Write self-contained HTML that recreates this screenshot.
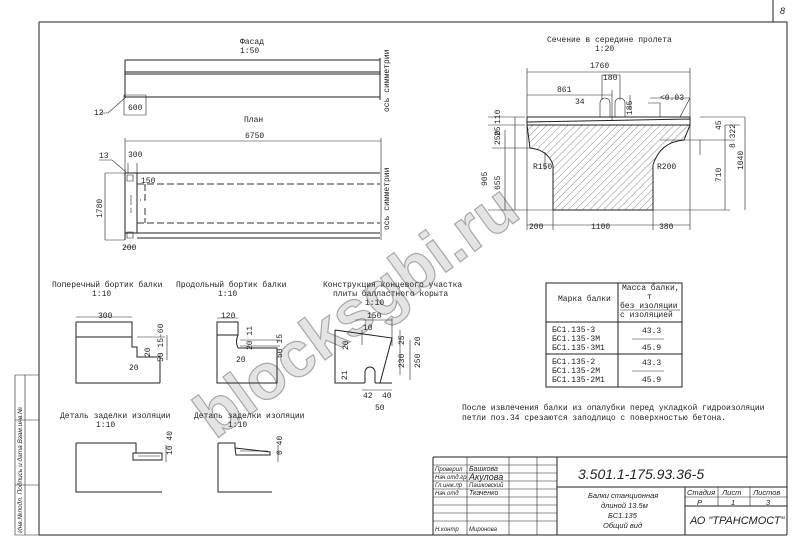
<!DOCTYPE html>
<html><head><meta charset="utf-8"><style>
html,body{margin:0;padding:0;background:#fff;}
svg{display:block;}
text{font-family:"Liberation Mono","DejaVu Sans Mono",monospace;fill:#222;}
.s{stroke:#222;fill:none;stroke-width:1;}
.t{stroke:#222;fill:none;stroke-width:0.6;}
.d{stroke:#333;fill:none;stroke-width:1;stroke-dasharray:7 3;}
text.h{font-family:"Liberation Sans","DejaVu Sans",sans-serif;font-style:italic;}
text.wm{font-family:"Liberation Sans",sans-serif;fill:#e4e4e4;stroke:#a8a8a8;stroke-width:1.2;font-weight:bold;}
</style></head><body>
<svg width="800" height="545" viewBox="0 0 800 545" xmlns="http://www.w3.org/2000/svg" font-size="8">
<defs>
<pattern id="hat" patternUnits="userSpaceOnUse" width="5" height="5" patternTransform="rotate(45)">
<line x1="0" y1="0" x2="0" y2="5" stroke="#555" stroke-width="0.7"/></pattern>
</defs>
<!-- frame -->
<path class="s" d="M39,22 H787 V535 M39,22 V535 H787" stroke-width="1.3"/>
<path class="s" d="M773,0 V22"/>
<text x="780" y="14" class="h" font-size="9">8</text>
<!-- left stamp -->
<path class="t" d="M15,375 H39 M15,375 V535 H39 M25,375 V535 M15,420 H39 M15,485 H39"/>
<text transform="translate(22,533) rotate(-90)" font-size="6.5" class="h">Инв.№подл. Подпись и дата Взам.инв.№</text>

<!-- watermark -->
<text class="wm" transform="translate(215,440) rotate(-36)" font-size="64">blocksgbi.ru</text>

<!-- Facade -->
<text x="240" y="44">Фасад</text><text x="240" y="53">1:50</text>
<path class="s" d="M125,60 H380 M125,60 V97 H380 M125,72 H380 M125,74 H380 M380,58 V100"/>
<path class="t" d="M124,95 H146 V115 H124 Z M100,113 H108 L126,97"/>
<text x="128" y="110">600</text><text x="94" y="115">12</text>
<text transform="translate(389,112) rotate(-90)">ось симметрии</text>
<!-- Plan -->
<text x="244" y="122">План</text>
<text x="245" y="138">6750</text>
<path class="t" d="M125,141 H381 M125,138 V240 M381,138 V240"/>
<path class="s" d="M125,173 H380 M137,173 V233 M125,233 H380 M137,238 H380 M125,173 V240"/>
<path class="d" d="M137,184 H380 M137,223 H380 M145,184 V200 H140 M145,208 V223"/>
<path class="t" d="M127,175 h6 v6 h-6 z M127,232 h6 v6 h-6 z M131,195 v10 M131,208 v5"/>
<path class="t" d="M105,173 H125 M105,173 V240 M105,240 H125 M128,163 V173 M137,163 V173 M99,160 H112 L126,172 M124,247 H134"/>
<text x="128" y="157">300</text><text x="141" y="183">150</text><text x="99" y="158">13</text>
<text transform="translate(102,218) rotate(-90)">1780</text>
<text x="122" y="250">200</text>
<text transform="translate(389,230) rotate(-90)">ось симметрии</text>

<!-- Section -->
<text x="547" y="42">Сечение в середине пролета</text><text x="595" y="51">1:20</text>
<path d="M527,125 H690 L684,140 Q660,142 653,165 V210 H553 V165 Q548,150 530,148 Z" fill="url(#hat)" stroke="#222" stroke-width="1"/>
<path class="s" d="M527,117 H690 M527,117 V125 M690,117 V125 M527,122 L690,119"/>
<path class="t" d="M600,117 v-14 a5,5 0 0 1 10,0 v14 M615,117 v-14 a5,5 0 0 1 10,0 v14"/>
<path class="t" d="M527,68 V230 M690,68 V230 M527,72 H690 M602,75 H620 M602,75 V100 M620,75 V100 M527,95 H612 M612,90 V120 M630,95 V110 M648,103 H660 V117 M650,98 H690 L680,117"/>
<path class="t" d="M488,210 H730 M505,130 V210 M488,117 H525 M488,125 H525 M492,148 H530 M515,117 V160 M515,160 V210 M700,117 H745 M745,117 V210 M725,125 V210 M725,125 H740 M700,140 H735 M700,140 V155 M660,140 H700 M545,152 V170 M527,225 H690 M553,210 V230 M653,210 V230"/>
<text x="590" y="68">1760</text><text x="603" y="80">180</text><text x="557" y="92">861</text><text x="575" y="104">34</text>
<text transform="translate(632,115) rotate(-90)">185</text>
<text x="660" y="100">&lt;0.03</text>
<text transform="translate(500,124) rotate(-90)">110</text>
<text transform="translate(500,136) rotate(-90)">25</text>
<text transform="translate(500,145) rotate(-90)">250</text>
<text transform="translate(487,186) rotate(-90)">905</text>
<text transform="translate(500,190) rotate(-90)">655</text>
<text x="533" y="169">R150</text><text x="657" y="169">R200</text>
<text transform="translate(721,130) rotate(-90)">45</text>
<text transform="translate(735,148) rotate(-90)">8 322</text>
<text transform="translate(721,182) rotate(-90)">710</text>
<text transform="translate(743,170) rotate(-90)">1040</text>
<text x="529" y="229">200</text><text x="591" y="229">1100</text><text x="659" y="229">380</text>

<!-- details row 1 -->
<text x="52" y="287">Поперечный бортик балки</text><text x="92" y="296">1:10</text>
<path class="s" d="M76,322 H132 V347 H137 V357 H160 M76,322 V383 H160 M76,337 H132 M160,357 V383"/>
<path class="t" d="M76,317 H132 M137,337 H165 M167,335 V360"/>
<text x="98" y="318">300</text>
<text transform="translate(150,357) rotate(-90)">20</text>
<text transform="translate(163,362) rotate(-90)">50 15-60</text>
<text x="129" y="370">20</text>

<text x="176" y="287">Продольный бортик балки</text><text x="218" y="296">1:10</text>
<path class="s" d="M217,322 H238 V335 Q235,342 238,348 H277 V383 H217 Z M217,335 H238"/>
<path class="t" d="M217,318 H238 M240,340 H280 M240,346 H280"/>
<text x="221" y="318">120</text><text x="236" y="362">20</text>
<text transform="translate(252,350) rotate(-90)">20 11</text>
<text transform="translate(282,358) rotate(-90)">50 15</text>

<text x="323" y="287">Конструкция концевого участка</text>
<text x="333" y="296">плиты балластного корыта</text><text x="365" y="305">1:10</text>
<path class="s" d="M335,330 L392,338 L380,383 M335,330 V383 H365 M375,383 H392"/>
<path class="s" d="M365,383 V372 a5,5 0 0 1 10,0 V383"/>
<path class="t" d="M355,320 H392 M392,318 V346 M362,330 V345 M400,330 V375 M410,340 V380 M362,390 H392"/>
<text x="367" y="318">150</text><text x="363" y="330">10</text>
<text transform="translate(348,350) rotate(-90)">20</text>
<text transform="translate(404,345) rotate(-90)">25</text>
<text transform="translate(404,368) rotate(-90)">230</text>
<text transform="translate(420,346) rotate(-90)">20</text>
<text transform="translate(420,368) rotate(-90)">250</text>
<text transform="translate(347,380) rotate(-90)">21</text>
<text x="363" y="398">42</text><text x="382" y="398">40</text><text x="375" y="410">50</text>

<!-- details row 2 -->
<text x="60" y="418">Деталь заделки изоляции</text><text x="96" y="427">1:10</text>
<path class="s" d="M76,443 H136 V453 M76,443 V492 H162 M133,453 H162 V460 H133 Z"/>
<path class="t" d="M138,456 H160 M166,445 V462"/>
<text transform="translate(172,455) rotate(-90)">10 40</text>

<text x="194" y="418">Деталь заделки изоляции</text><text x="228" y="427">1:10</text>
<path class="s" d="M218,443 H235 V448 M218,443 V492 H272 M235,448 L270,452 V455 H236 Z"/>
<path class="t" d="M240,451 H268 M278,445 V462"/>
<text transform="translate(282,455) rotate(-90)">0 40</text>

<!-- table -->
<path class="s" d="M546,283 H682 V387 H546 Z M618,283 V387 M546,322 H682 M546,354 H682"/>
<text x="558" y="301">Марка балки</text>
<text x="622" y="290">Масса балки,</text><text x="647" y="299">т</text>
<text x="620" y="308">без изоляции</text><path class="t" d="M620,310 H680"/>
<text x="620" y="317">с изоляцией</text>
<text x="552" y="332">БС1.135-3</text><text x="552" y="341">БС1.135-3М</text><text x="552" y="350">БС1.135-3М1</text>
<text x="642" y="333">43.3</text><path class="t" d="M632,339 H664"/><text x="642" y="350">45.9</text>
<text x="552" y="364">БС1.135-2</text><text x="552" y="373">БС1.135-2М</text><text x="552" y="382">БС1.135-2М1</text>
<text x="642" y="365">43.3</text><path class="t" d="M632,371 H664"/><text x="642" y="382">45.9</text>
<text x="462" y="410">После извлечения балки из опалубки перед укладкой гидроизоляции</text>
<text x="462" y="420">петли поз.34 срезаются заподлицо с поверхностью бетона.</text>

<!-- title block -->
<path class="s" d="M433,457 H787 M433,457 V535 M557,457 V535 M557,487 H787 M685,487 V535 M685,506 H787"/>
<path class="t" d="M467,457 V535 M509,457 V535 M537,457 V535 M433,465 H557 M433,473 H557 M433,481 H557 M433,489 H557 M433,497 H557 M433,505 H557 M433,513 H557 M433,521 H557 M718,487 V506 M750,487 V506 M685,497 H787"/>
<text x="435" y="471" class="h" font-size="6">Проверил</text><text x="469" y="471" class="h" font-size="7">Башкова</text>
<text x="435" y="479" class="h" font-size="6">Нач.отд.гр</text><text x="469" y="480" class="h" font-size="9">Акулова</text>
<text x="435" y="487" class="h" font-size="6">Гл.инж.пр</text><text x="469" y="487" class="h" font-size="6">Пашковский</text>
<text x="435" y="495" class="h" font-size="6">Нач.отд</text><text x="469" y="495" class="h" font-size="7">Ткаченко</text>
<text x="435" y="531" class="h" font-size="6">Н.контр</text><text x="469" y="531" class="h" font-size="6">Миронова</text>
<text x="578" y="479" class="h" font-size="14">3.501.1-175.93.36-5</text>
<text x="588" y="498" class="h" font-size="7.5">Балки станционная</text>
<text x="601" y="508" class="h" font-size="7.5">длиной 13.5м</text>
<text x="608" y="518" class="h" font-size="7.5">БС1.135</text>
<text x="603" y="528" class="h" font-size="7.5">Общий вид</text>
<text x="687" y="495" class="h" font-size="7.5">Стадия</text><text x="722" y="495" class="h" font-size="7.5">Лист</text><text x="753" y="495" class="h" font-size="7.5">Листов</text>
<text x="697" y="505" class="h" font-size="7.5">Р</text><text x="731" y="505" class="h" font-size="7.5">1</text><text x="766" y="505" class="h" font-size="7.5">3</text>
<text x="690" y="524" class="h" font-size="11">АО "ТРАНСМОСТ"</text>
</svg>
</body></html>
